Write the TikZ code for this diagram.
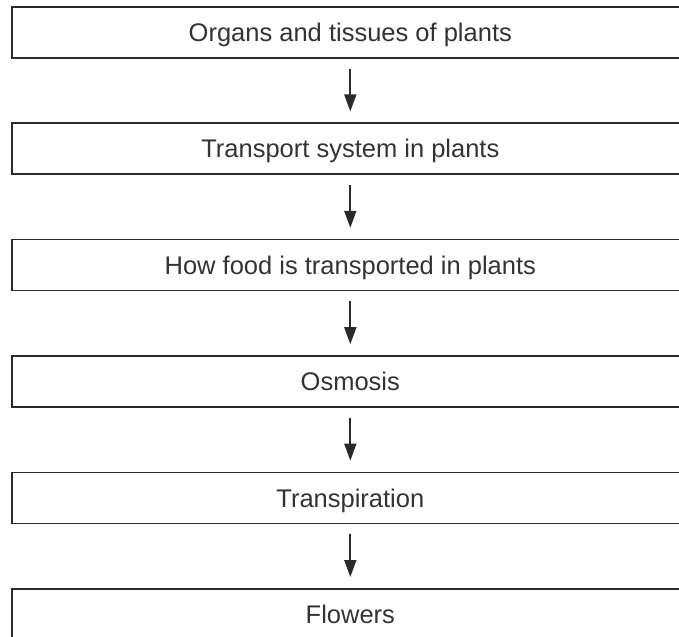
\documentclass[tikz,border=0pt]{standalone}
\usepackage{fontspec}
\setmainfont{Liberation Sans}
\usetikzlibrary{arrows.meta}
\definecolor{boxline}{HTML}{2A2A2A}
\definecolor{labeltext}{HTML}{333333}
\tikzset{
  stagebox/.style={draw=boxline, line width=1.6bp, minimum width=677bp, minimum height=51bp,
    inner sep=0pt, text height=18.3bp, text depth=0pt,
    font=\fontsize{25.5bp}{30bp}\selectfont, text=labeltext, anchor=north west},
  flowarrow/.style={draw=boxline, line width=1.8bp, -{Triangle[length=17bp,width=12bp]}}
}
\begin{document}
\begin{tikzpicture}[x=1bp,y=-1bp]
  \useasboundingbox (0,0) rectangle (679,637);
  \clip (0,0) rectangle (679,637);
  \node[stagebox] (b1) at (11,6)     {Organs and tissues of plants};
  \node[stagebox] (b2) at (11,122.4) {Transport system in plants};
  \node[stagebox] (b3) at (11,238.8) {How food is transported in plants};
  \node[stagebox] (b4) at (11,355.2) {Osmosis};
  \node[stagebox] (b5) at (11,471.6) {Transpiration};
  \node[stagebox] (b6) at (11,588)   {Flowers};
  \foreach \a/\b in {b1/b2,b2/b3,b3/b4,b4/b5,b5/b6}
    \draw[flowarrow] ([yshift=-10bp]\a.south) -- ([yshift=11bp]\b.north);
\end{tikzpicture}
\end{document}
